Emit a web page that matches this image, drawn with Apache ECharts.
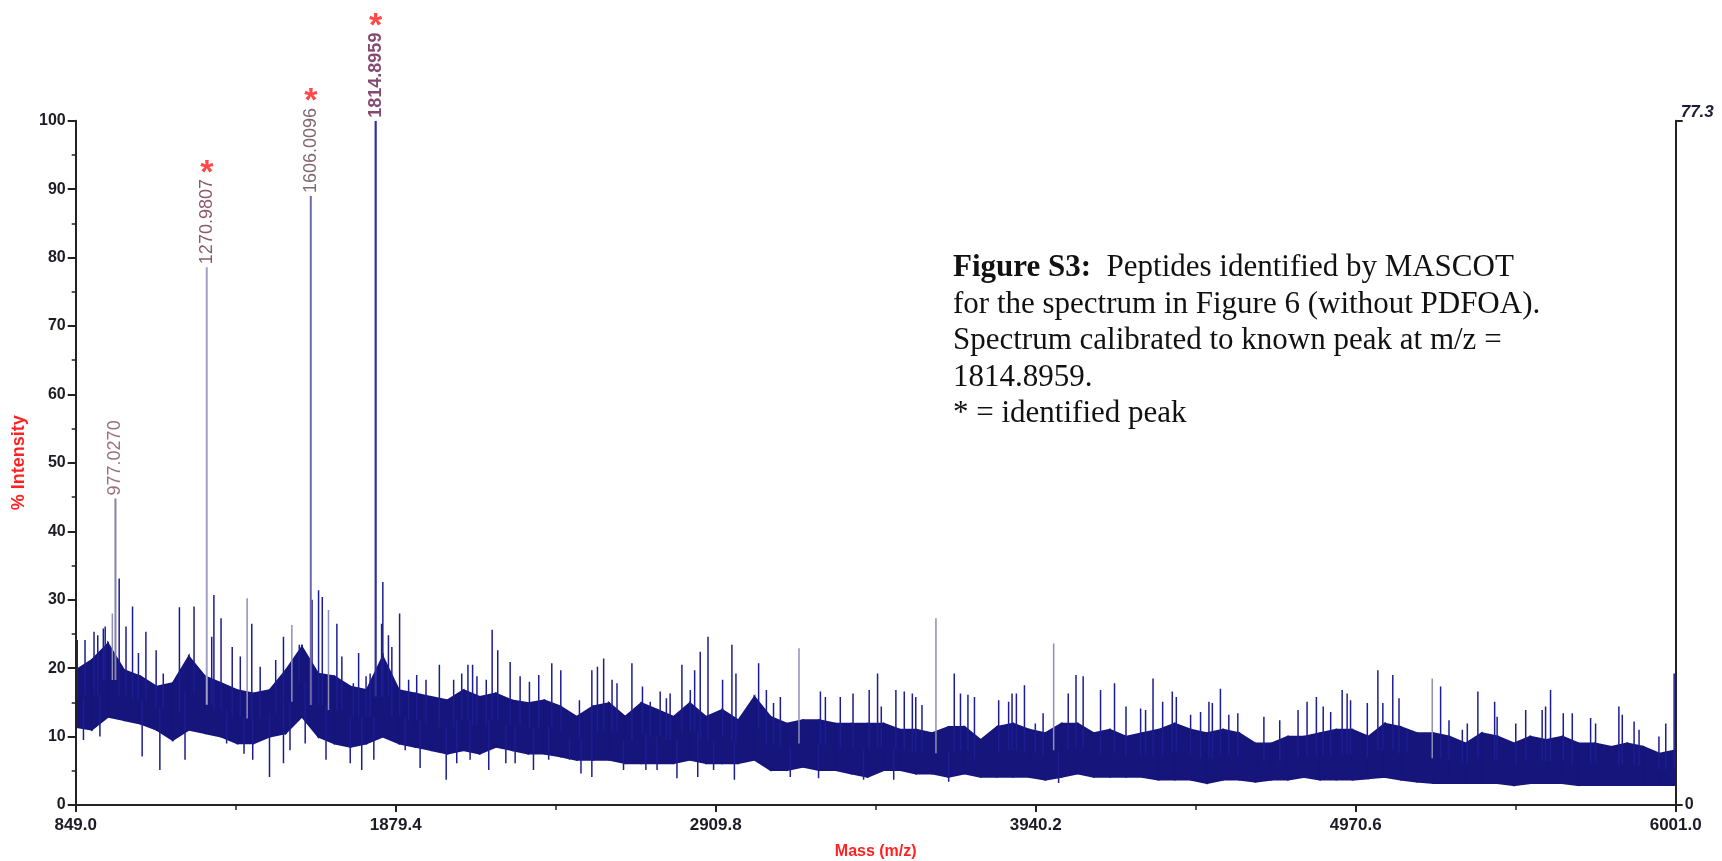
<!DOCTYPE html>
<html><head><meta charset="utf-8">
<script src="https://cdn.jsdelivr.net/npm/echarts@6/dist/echarts.min.js"></script>
<style>html,body{margin:0;padding:0;background:#fff}#c{width:1722px;height:861px}</style>
</head><body><div id="c"></div>
<script>
// ---------- data ----------
const massMin = 849.0;
const massMax = 6001.0;
const massTickStep = 1030.4;
const intensityTickStep = 10;
const rightAxisMax = 77.3;

// dense noise band: upper and lower edge (% intensity), evenly spaced from 849.0 to 6001.0
const bandHi = [19.7,21.2,23.6,19.7,18.8,17.3,17.8,21.7,18.8,17.8,
  16.8,16.3,16.8,19.7,23.1,19.2,18.8,17.3,16.8,21.7,
  16.8,16.3,15.8,15.3,16.8,15.8,16.3,15.3,14.9,15.3,
  14.4,12.9,14.4,14.9,12.9,14.9,13.9,12.9,14.9,12.9,
  13.9,12.4,15.8,12.9,11.9,12.4,12.4,11.9,11.9,11.9,
  11.9,11.0,11.0,10.5,11.4,11.4,9.5,11.4,11.9,11.0,
  10.5,11.9,11.9,10.5,11.0,10.0,10.5,11.0,11.9,11.0,
  10.5,11.0,10.5,9.0,9.0,10.0,10.0,10.5,11.0,11.0,
  10.0,11.9,11.4,10.5,10.5,10.0,9.0,10.5,10.0,9.0,
  10.0,9.5,10.0,9.0,9.0,8.5,9.0,8.5,7.5,8.0];
const bandLo = [11.4,11.0,12.9,12.4,11.9,11.0,9.5,11.0,10.5,10.0,
  9.0,9.0,10.0,10.5,12.9,10.0,9.0,8.5,9.0,10.0,
  9.0,8.5,8.0,7.5,8.0,7.5,8.5,8.0,7.5,7.5,
  7.1,6.6,6.6,6.6,6.1,6.1,6.1,6.1,6.6,6.1,
  6.1,6.1,6.6,5.1,5.1,5.6,5.1,5.1,4.6,4.1,
  5.1,5.1,4.6,4.6,4.1,4.6,4.1,4.1,4.1,4.1,
  3.7,4.1,4.6,4.1,4.1,4.1,4.1,3.7,3.7,3.7,
  3.2,3.7,3.7,3.4,3.7,3.7,4.1,3.7,3.7,3.7,
  3.9,4.1,3.7,3.4,3.2,3.2,3.2,3.2,3.2,2.9,
  3.2,3.2,3.2,2.9,2.9,2.9,2.9,2.9,2.9,2.9];

// noise spikes above the band (m/z, % intensity)
const spikeMass = [854,879,908,920,938,944,989,1011,1032,1051,1075,1108,1131,1183,1230,1287,1294,1317,1353,1379,
  1416,1443,1493,1518,1569,1610,1631,1643,1690,1706,1743,1760,1784,1797,1834,1838,1856,1867,1892,1921,
  1947,1977,2020,2066,2092,2112,2127,2141,2171,2190,2208,2248,2280,2310,2340,2382,2411,2471,2511,2529,
  2549,2576,2592,2640,2674,2699,2731,2751,2763,2801,2828,2842,2860,2885,2932,2962,2975,3048,3073,3096,
  3118,3247,3263,3311,3352,3404,3431,3443,3490,3517,3543,3554,3574,3678,3698,3722,3743,3821,3853,3864,
  3878,3904,3939,3964,4045,4070,4093,4149,4194,4231,4278,4294,4318,4349,4380,4393,4439,4471,4498,4509,
  4535,4562,4591,4675,4726,4785,4814,4844,4866,4890,4927,4943,4954,5008,5042,5058,5090,5110,5136,5244,
  5271,5314,5330,5364,5418,5426,5486,5518,5571,5582,5598,5639,5668,5727,5743,5818,5829,5867,5883,5947,
  5969,5996];
const spikeInt = [24.1,24.1,25.3,24.8,25.8,26.1,33.1,26.1,29.0,22.2,25.3,22.6,19.2,28.9,29.0,24.6,30.7,27.3,23.1,21.7,
  26.5,20.2,21.2,24.6,23.4,30.0,31.4,30.4,26.5,21.7,17.8,22.2,18.8,19.2,26.5,32.6,24.8,23.1,28.0,18.3,
  19.0,18.3,20.5,18.3,19.2,20.5,20.5,18.8,18.3,25.6,22.6,20.9,18.8,18.0,19.0,20.7,19.7,15.3,19.7,20.2,
  21.4,18.3,17.8,20.7,17.3,15.1,16.6,15.6,16.3,20.5,16.8,19.7,22.4,24.6,18.3,23.4,19.2,20.7,16.8,14.9,
  15.8,16.6,15.8,15.8,16.3,16.8,19.2,14.4,16.8,16.6,16.3,15.8,14.6,19.2,16.3,16.1,15.8,15.3,15.1,16.3,
  16.3,17.5,11.9,13.4,16.3,19.0,18.8,16.8,17.8,14.4,14.1,13.9,18.5,15.1,16.6,15.8,13.2,13.6,15.1,14.9,
  17.0,13.2,13.4,12.9,12.4,13.9,15.1,15.8,14.4,13.6,16.8,16.3,15.3,14.9,19.7,14.9,19.0,15.6,11.0,17.3,
  12.4,11.0,11.9,16.6,15.1,12.9,11.9,13.9,13.9,14.4,16.8,13.4,13.4,12.7,11.9,14.4,13.2,12.2,11.0,10.0,
  11.9,19.2];

// paler (grey-lavender) noise spikes
const paleSpikeMass = [967,1401,1545,1663,3178,3619,3998,5217];
const paleSpikeInt = [28.0,30.2,26.3,28.5,22.9,27.3,23.6,18.5];

// noise dips below the band
const dipMass = [874,927,1063,1120,1201,1335,1391,1419,1473,1518,1539,1588,1655,1733,1770,1809,1910,1958,2042,2076,
  2119,2179,2234,2264,2323,2372,2439,2476,2511,2613,2685,2721,2785,2852,2903,2970,3150,3241,3386,3483,
  3660,4014];
const dipInt = [9.5,10.0,7.1,5.1,6.6,9.0,7.5,6.6,4.1,6.1,8.0,9.0,6.6,6.1,5.1,6.6,8.0,5.4,3.7,6.1,
  6.6,5.1,6.1,6.1,5.1,6.6,6.6,4.6,4.1,5.1,5.1,5.1,3.9,4.1,5.1,3.7,4.1,3.9,3.7,3.7,
  3.4,3.2];

// labelled peaks
const peakMass = [977.0270, 1270.9807, 1606.0096, 1814.8959];
const peakInt = [44.8, 78.6, 89.0, 100.0];
const peakText = ['977.0270', '1270.9807', '1606.0096', '1814.8959'];
const peakIdentified = [false, true, true, true];

const noteTitle = 'Figure S3:';
const noteLines = ['  Peptides identified by MASCOT',
  'for the spectrum in Figure 6 (without PDFOA).',
  'Spectrum calibrated to known peak at m/z =',
  '1814.8959.',
  '* = identified peak'];

// ---------- styles ----------
const NAVY = '#15157c';
const SPIKE = '#1d1d92';
const PALE = '#8e8eb8';
const peakColors = ['#8484aa', '#a2a2c8', '#6a6aaa', '#30309c'];
const peakLabelColors = ['#7e4c60', '#6e2e48', '#60404e', '#661a4c'];
const AXIS = '#222';
const TXT = '#1c1c26';

// ---------- helpers ----------
const bandStep = (massMax - massMin) / (bandHi.length - 1);
const bandMass = bandHi.map((_, i) => massMin + i * bandStep);
function bandMid(m) {
  let i = Math.round((m - massMin) / bandStep);
  i = Math.max(0, Math.min(bandHi.length - 1, i));
  return (bandHi[i] + bandLo[i]) / 2;
}
function stickSeries(masses, values, colorFn, widthFn, z) {
  return {
    type: 'custom', z: z, silent: true, clip: true,
    encode: { x: 0, y: 1 },
    data: masses.map((m, i) => [m, values[i]]),
    renderItem: function (params, api) {
      const m = api.value(0), v = api.value(1);
      const a = api.coord([m, bandMid(m)]);
      const b = api.coord([m, v]);
      return { type: 'line', shape: { x1: a[0], y1: a[1], x2: b[0], y2: b[1] },
        style: { stroke: colorFn(params.dataIndex), lineWidth: widthFn(params.dataIndex) } };
    }
  };
}
// band drawn as quadrilaterals between consecutive samples
const bandSeries = {
  type: 'custom', z: 2, silent: true, clip: true,
  encode: { x: 0, y: [1, 2] },
  data: bandMass.map((m, i) => [m, bandLo[i], bandHi[i]]),
  renderItem: function (params, api) {
    const i = params.dataIndex;
    if (i >= bandMass.length - 1) return null;
    const p1 = api.coord([bandMass[i], bandHi[i]]);
    const p2 = api.coord([bandMass[i + 1], bandHi[i + 1]]);
    const p3 = api.coord([bandMass[i + 1], bandLo[i + 1]]);
    const p4 = api.coord([bandMass[i], bandLo[i]]);
    return { type: 'polygon', shape: { points: [p1, p2, p3, p4] },
      style: { fill: NAVY, stroke: NAVY, lineWidth: 1.8 } };
  }
};

const chart = echarts.init(document.getElementById('c'), null, { renderer: 'canvas' });
const FONT = 'Liberation Sans, Arial, sans-serif';
const SERIF = 'Liberation Serif, Times New Roman, serif';

chart.setOption({
  animation: false,
  backgroundColor: '#ffffff',
  grid: { left: 75.7, right: 46.3, top: 120.7, bottom: 56, containLabel: false, outerBoundsMode: 'none' },
  xAxis: {
    type: 'value', min: massMin, max: massMax, interval: massTickStep, z: 10,
    axisLine: { onZero: false, lineStyle: { color: AXIS, width: 2 } },
    axisTick: { length: 7, lineStyle: { color: AXIS, width: 2 } },
    minorTick: { show: true, splitNumber: 2, length: 5, lineStyle: { color: AXIS, width: 1.5 } },
    splitLine: { show: false }, minorSplitLine: { show: false },
    axisLabel: { formatter: v => v.toFixed(1), fontSize: 17, fontWeight: 'bold', color: TXT, margin: 12, fontFamily: FONT },
    name: 'Mass (m/z)', nameLocation: 'middle', nameGap: 39,
    nameTextStyle: { color: '#ff2222', fontSize: 16, fontWeight: 'bold', fontFamily: FONT }
  },
  yAxis: [{
    type: 'value', min: 0, max: 100, interval: intensityTickStep, position: 'left', z: 10,
    axisLine: { show: true, onZero: false, lineStyle: { color: AXIS, width: 2 } },
    axisTick: { show: true, length: 8, lineStyle: { color: AXIS, width: 2 } },
    minorTick: { show: true, splitNumber: 2, length: 4, lineStyle: { color: AXIS, width: 1.5 } },
    splitLine: { show: false },
    axisLabel: { fontSize: 16, fontWeight: 'bold', color: TXT, margin: 10, fontFamily: FONT },
    name: '% Intensity', nameLocation: 'middle', nameGap: 46,
    nameTextStyle: { color: '#ff2222', fontSize: 18, fontWeight: 'bold', fontFamily: FONT }
  }, {
    type: 'value', min: 0, max: rightAxisMax, interval: rightAxisMax, position: 'right', z: 10,
    axisLine: { show: true, onZero: false, lineStyle: { color: AXIS, width: 2 } },
    axisTick: { show: true, length: 7, lineStyle: { color: AXIS, width: 2 } },
    splitLine: { show: false },
    axisLabel: {
      margin: 9, fontFamily: FONT, fontSize: 16, fontWeight: 'bold', color: TXT,
      formatter: v => v === 0 ? '0' : '{t|' + v + '}',
      rich: { t: { fontSize: 17, fontWeight: 'bold', fontStyle: 'italic', color: '#1c1c3a', fontFamily: FONT, padding: [0, 0, 16, -4] } }
    }
  }],
  graphic: [{
    type: 'text', left: 953, top: 250, z: 20,
    style: {
      text: '{b|' + noteTitle + '}{r|' + noteLines[0] + '}\n{r|' + noteLines.slice(1).join('}\n{r|') + '}',
      rich: {
        b: { fontFamily: SERIF, fontSize: 31, fontWeight: 'bold', fill: '#111', lineHeight: 36.5 },
        r: { fontFamily: SERIF, fontSize: 31, fill: '#111', lineHeight: 36.5 }
      },
      font: '31px ' + SERIF, fill: '#111', lineHeight: 36.5
    }
  }],
  series: [
    bandSeries,
    stickSeries(dipMass, dipInt, () => SPIKE, () => 1.5, 3),
    stickSeries(paleSpikeMass, paleSpikeInt, () => PALE, () => 1.5, 3),
    stickSeries(spikeMass, spikeInt, () => SPIKE, () => 1.5, 4),
    stickSeries(peakMass, peakInt, i => peakColors[i], i => i === 3 ? 2.2 : 2, 5),
    { type: 'scatter', z: 6, silent: true, symbolSize: 0, itemStyle: { color: 'transparent' },
      data: peakMass.map((m, i) => ({ value: [m, peakInt[i]],
        label: { color: peakLabelColors[i], fontWeight: i === 3 ? 'bold' : 'normal' } })),
      label: { show: true, formatter: p => peakText[p.dataIndex], rotate: 90, position: 'top', distance: 3,
        align: 'left', verticalAlign: 'middle', fontSize: 18, fontFamily: FONT } },
    { type: 'scatter', z: 6, silent: true, symbolSize: 0, itemStyle: { color: 'transparent' },
      data: peakMass.map((m, i) => [m, peakInt[i]]).filter((_, i) => peakIdentified[i]),
      label: { show: true, formatter: '*', position: 'top', distance: 94, align: 'center', verticalAlign: 'middle',
        fontSize: 34, fontWeight: 'bold', color: '#ff1a1a', fontFamily: FONT } }
  ]
});
</script></body></html>
